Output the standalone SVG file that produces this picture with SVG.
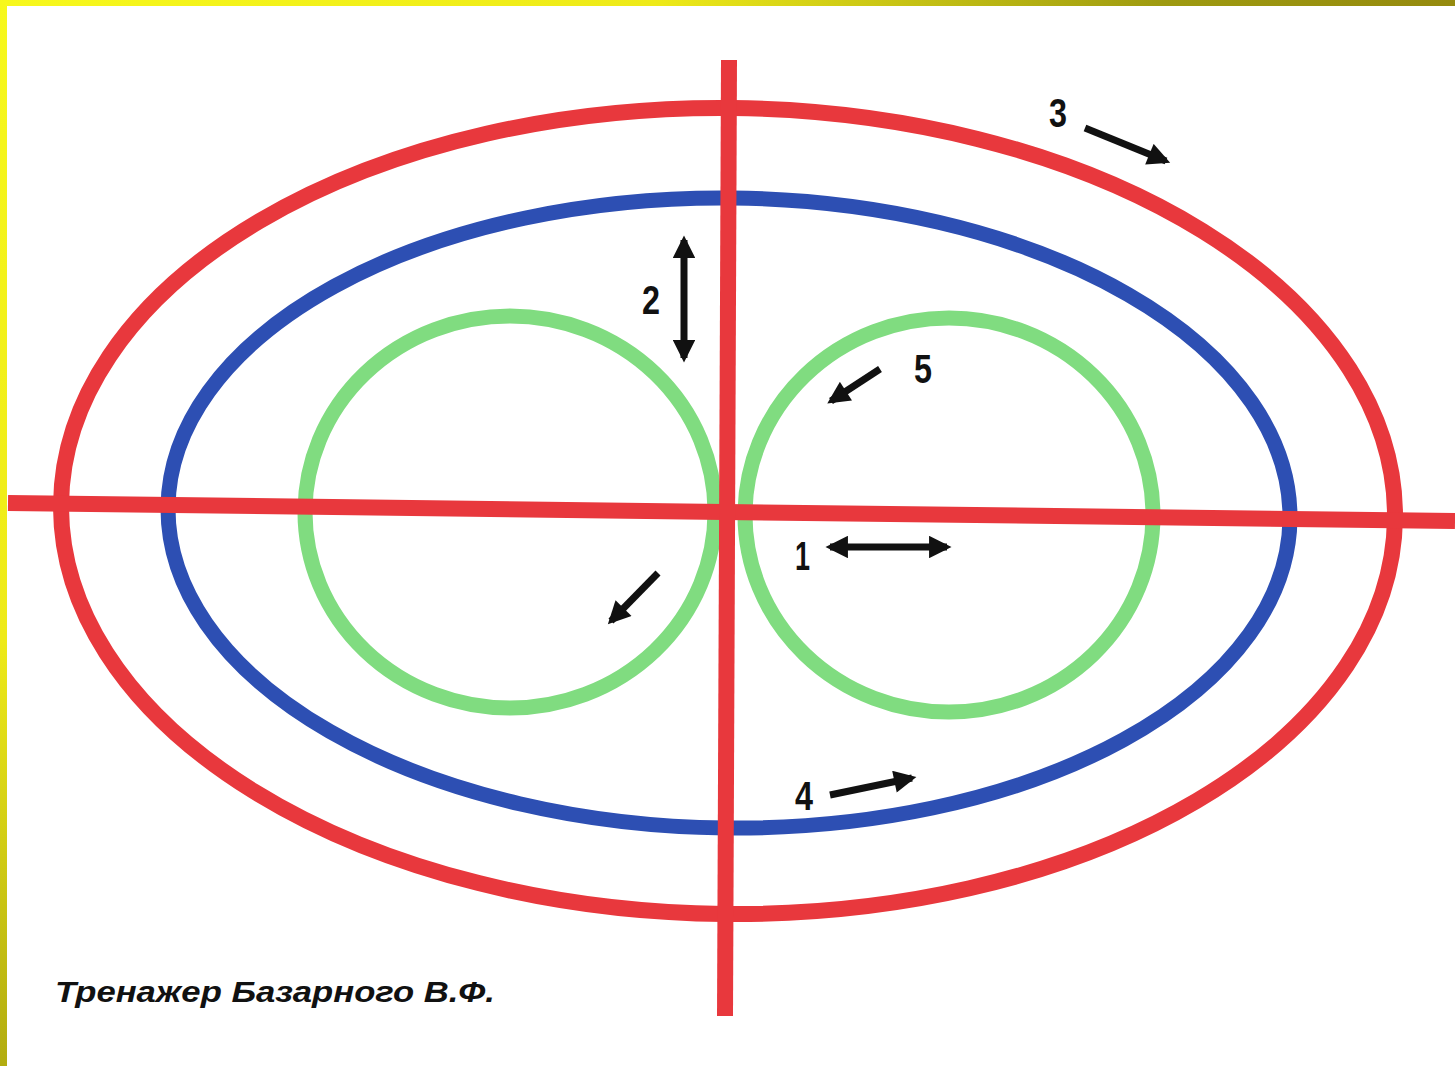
<svg xmlns="http://www.w3.org/2000/svg" width="1455" height="1066" viewBox="0 0 1455 1066">
<defs>
<linearGradient id="gTop" x1="0" y1="0" x2="1" y2="0"><stop offset="0" stop-color="#f7f81c"/><stop offset="0.45" stop-color="#eeea18"/><stop offset="0.8" stop-color="#9e9a10"/><stop offset="1" stop-color="#958a0e"/></linearGradient>
<linearGradient id="gLeft" x1="0" y1="0" x2="0" y2="1"><stop offset="0" stop-color="#f7f81c"/><stop offset="0.6" stop-color="#eeea18"/><stop offset="1" stop-color="#b2ac10"/></linearGradient>
<marker id="ah" viewBox="0 0 10 10" refX="8" refY="5" markerWidth="3.4" markerHeight="3.2" orient="auto-start-reverse" markerUnits="strokeWidth"><path d="M0,0 L10,5 L0,10 z" fill="#111"/></marker>
</defs>
<style>
.red{fill:none;stroke:#e8383d;stroke-width:16}
.blue{fill:none;stroke:#2d4fb3;stroke-width:15}
.green{fill:none;stroke:#80dc80;stroke-width:15}
.arr{fill:none;stroke:#111;stroke-width:7}
.lbl{font-family:"Liberation Sans",Arial,sans-serif;font-size:40px;font-weight:bold;fill:#111}
.cap{font-family:"Liberation Sans",Arial,sans-serif;font-size:29px;font-weight:bold;font-style:italic;fill:#111}
</style>
<rect width="1455" height="1066" fill="#fff"/>
<rect x="0" y="0" width="1455" height="6" fill="url(#gTop)"/>
<rect x="0" y="0" width="7" height="1066" fill="url(#gLeft)"/>

<g id="shapes">
<g id="outer-ellipse"><ellipse class="red" cx="728" cy="511" rx="667" ry="403" transform="rotate(0.6 728 511)"/></g>
<g id="blue-ellipse"><ellipse class="blue" cx="729" cy="513" rx="561" ry="315" transform="rotate(0.6 729 513)"/></g>
<g id="left-circle"><ellipse class="green" cx="510" cy="512" rx="205" ry="196"/></g>
<g id="right-circle"><ellipse class="green" cx="949" cy="515" rx="204" ry="197"/></g>
<g id="h-axis"><line class="red" x1="8" y1="503" x2="1455" y2="521"/></g>
<g id="v-axis"><line class="red" x1="729" y1="60" x2="725" y2="1016" stroke-width="17"/></g>
</g>

<g id="connectors">
<line class="arr" x1="1085" y1="128" x2="1166" y2="161" marker-end="url(#ah)"/>
<line class="arr" x1="684" y1="240" x2="684" y2="358" marker-start="url(#ah)" marker-end="url(#ah)"/>
<line class="arr" x1="880" y1="369" x2="831" y2="401" marker-end="url(#ah)"/>
<line class="arr" x1="830" y1="547" x2="947" y2="547" marker-start="url(#ah)" marker-end="url(#ah)"/>
<line class="arr" x1="658" y1="573" x2="611" y2="621" marker-end="url(#ah)"/>
<line class="arr" x1="830" y1="795" x2="912" y2="778" marker-end="url(#ah)"/>
</g>

<g id="labels">
<text class="lbl" x="1049" y="127" textLength="18" lengthAdjust="spacingAndGlyphs">3</text>
<text class="lbl" x="642" y="314" textLength="18" lengthAdjust="spacingAndGlyphs">2</text>
<text class="lbl" x="914" y="383" textLength="18" lengthAdjust="spacingAndGlyphs">5</text>
<text class="lbl" x="795" y="570" textLength="15" lengthAdjust="spacingAndGlyphs">1</text>
<text class="lbl" x="795" y="810" textLength="18" lengthAdjust="spacingAndGlyphs">4</text>
<text class="cap" x="55" y="1002" textLength="440" lengthAdjust="spacingAndGlyphs">Тренажер Базарного В.Ф.</text>
</g>
</svg>
